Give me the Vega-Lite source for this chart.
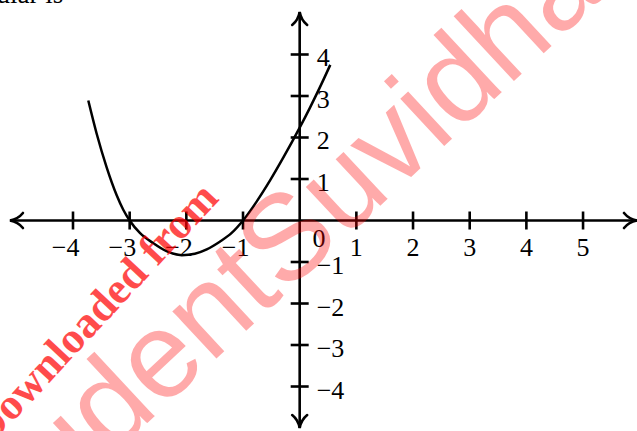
{
  "$schema": "https://vega.github.io/schema/vega-lite/v6.json",
  "width": 637,
  "height": 431,
  "autosize": {"type": "none"},
  "padding": 0,
  "background": "white",
  "config": {"view": {"stroke": null}},
  "datasets": {
    "curve": [
      {"x": -3.73, "y": 2.89}, {"x": -3.582, "y": 2.09}, {"x": -3.406, "y": 1.28},
      {"x": -3.229, "y": 0.608}, {"x": -3.113, "y": 0.26}, {"x": -3.0, "y": 0},
      {"x": -2.82, "y": -0.3}, {"x": -2.58, "y": -0.55}, {"x": -2.35, "y": -0.74},
      {"x": -2.08, "y": -0.835}, {"x": -1.85, "y": -0.8}, {"x": -1.64, "y": -0.695},
      {"x": -1.41, "y": -0.511}, {"x": -1.2, "y": -0.3}, {"x": -1.0, "y": 0},
      {"x": -0.76, "y": 0.456}, {"x": -0.52, "y": 0.972}, {"x": -0.29, "y": 1.513},
      {"x": 0, "y": 2.238}, {"x": 0.18, "y": 2.715}, {"x": 0.36, "y": 3.219},
      {"x": 0.54, "y": 3.75}
    ],
    "axes": [
      {"x": -5.112, "x2": 5.952, "y": 0, "y2": 0},
      {"x": 0, "x2": 0, "y": -5.0, "y2": 5.024}
    ],
    "arrows": [
      {"x": -5.112, "y": 0, "dir": "left"},
      {"x": 5.952, "y": 0, "dir": "right"},
      {"x": 0, "y": 5.024, "dir": "up"},
      {"x": 0, "y": -5.0, "dir": "down"}
    ],
    "xticks": [
      {"x": -4, "y": 0, "label": "−4"}, {"x": -3, "y": 0, "label": "−3"},
      {"x": -2, "y": 0, "label": "−2"}, {"x": -1, "y": 0, "label": "−1"},
      {"x": 1, "y": 0, "label": "1"}, {"x": 2, "y": 0, "label": "2"},
      {"x": 3, "y": 0, "label": "3"}, {"x": 4, "y": 0, "label": "4"},
      {"x": 5, "y": 0, "label": "5"}
    ],
    "yticks": [
      {"x": 0, "y": 4, "label": "4"}, {"x": 0, "y": 3, "label": "3"},
      {"x": 0, "y": 2, "label": "2"}, {"x": 0, "y": 1, "label": "1"},
      {"x": 0, "y": -1, "label": "−1"}, {"x": 0, "y": -2, "label": "−2"},
      {"x": 0, "y": -3, "label": "−3"}, {"x": 0, "y": -4, "label": "−4"}
    ],
    "origin": [{"x": 0, "y": 0, "label": "0"}]
  },
  "layer": [
    {
      "data": {"name": "axes"},
      "mark": {"type": "rule", "color": "black", "strokeWidth": 2.6},
      "encoding": {
        "x": {"field": "x", "type": "quantitative", "scale": {"domain": [-5.288, 5.952], "nice": false, "zero": false}, "axis": null},
        "y": {"field": "y", "type": "quantitative", "scale": {"domain": [-5.072, 5.313], "nice": false, "zero": false}, "axis": null},
        "x2": {"field": "x2"},
        "y2": {"field": "y2"}
      }
    },
    {
      "data": {"name": "arrows"},
      "mark": {"type": "point", "filled": false, "stroke": "black", "strokeWidth": 2.6, "size": 225, "opacity": 1, "strokeCap": "round"},
      "encoding": {
        "x": {"field": "x", "type": "quantitative", "scale": {"domain": [-5.288, 5.952], "nice": false, "zero": false}, "axis": null},
        "y": {"field": "y", "type": "quantitative", "scale": {"domain": [-5.072, 5.313], "nice": false, "zero": false}, "axis": null},
        "shape": {
          "field": "dir", "type": "nominal", "legend": null,
          "scale": {
            "domain": ["left", "right", "up", "down"],
            "range": [
              "M1.73,-1C1.25,-0.4 0.55,-0.1 0,0C0.55,0.1 1.25,0.4 1.73,1",
              "M-1.73,-1C-1.25,-0.4 -0.55,-0.1 0,0C-0.55,0.1 -1.25,0.4 -1.73,1",
              "M-1,1.73C-0.4,1.25 -0.1,0.55 0,0C0.1,0.55 0.4,1.25 1,1.73",
              "M-1,-1.73C-0.4,-1.25 -0.1,-0.55 0,0C0.1,-0.55 0.4,-1.25 1,-1.73"
            ]
          }
        }
      }
    },
    {
      "data": {"name": "xticks"},
      "mark": {"type": "tick", "orient": "vertical", "color": "black", "size": 18, "thickness": 2.6, "opacity": 1},
      "encoding": {
        "x": {"field": "x", "type": "quantitative", "scale": {"domain": [-5.288, 5.952], "nice": false, "zero": false}, "axis": null},
        "y": {"field": "y", "type": "quantitative", "scale": {"domain": [-5.072, 5.313], "nice": false, "zero": false}, "axis": null}
      }
    },
    {
      "data": {"name": "yticks"},
      "mark": {"type": "tick", "orient": "horizontal", "color": "black", "size": 18, "thickness": 2.6, "opacity": 1},
      "encoding": {
        "x": {"field": "x", "type": "quantitative", "scale": {"domain": [-5.288, 5.952], "nice": false, "zero": false}, "axis": null},
        "y": {"field": "y", "type": "quantitative", "scale": {"domain": [-5.072, 5.313], "nice": false, "zero": false}, "axis": null}
      }
    },
    {
      "data": {"name": "curve"},
      "mark": {"type": "line", "color": "black", "strokeWidth": 2.5, "interpolate": "monotone"},
      "encoding": {
        "x": {"field": "x", "type": "quantitative", "scale": {"domain": [-5.288, 5.952], "nice": false, "zero": false}, "axis": null},
        "y": {"field": "y", "type": "quantitative", "scale": {"domain": [-5.072, 5.313], "nice": false, "zero": false}, "axis": null}
      }
    },
    {
      "data": {"name": "xticks"},
      "mark": {"type": "text", "align": "right", "baseline": "alphabetic", "dx": 6.5, "dy": 35.5, "font": "Liberation Serif", "fontSize": 26, "color": "black"},
      "encoding": {
        "x": {"field": "x", "type": "quantitative", "scale": {"domain": [-5.288, 5.952], "nice": false, "zero": false}, "axis": null},
        "y": {"field": "y", "type": "quantitative", "scale": {"domain": [-5.072, 5.313], "nice": false, "zero": false}, "axis": null},
        "text": {"field": "label"}
      }
    },
    {
      "data": {"name": "yticks"},
      "mark": {"type": "text", "align": "left", "baseline": "alphabetic", "dx": 17, "dy": 12, "font": "Liberation Serif", "fontSize": 26, "color": "black"},
      "encoding": {
        "x": {"field": "x", "type": "quantitative", "scale": {"domain": [-5.288, 5.952], "nice": false, "zero": false}, "axis": null},
        "y": {"field": "y", "type": "quantitative", "scale": {"domain": [-5.072, 5.313], "nice": false, "zero": false}, "axis": null},
        "text": {"field": "label"}
      }
    },
    {
      "data": {"name": "origin"},
      "mark": {"type": "text", "align": "center", "baseline": "alphabetic", "dx": 19.3, "dy": 26.5, "font": "Liberation Serif", "fontSize": 26, "color": "black"},
      "encoding": {
        "x": {"field": "x", "type": "quantitative", "scale": {"domain": [-5.288, 5.952], "nice": false, "zero": false}, "axis": null},
        "y": {"field": "y", "type": "quantitative", "scale": {"domain": [-5.072, 5.313], "nice": false, "zero": false}, "axis": null},
        "text": {"field": "label"}
      }
    },
    {
      "data": {"values": [{"label": "ular is"}]},
      "mark": {"type": "text", "align": "right", "baseline": "alphabetic", "font": "Liberation Serif", "fontSize": 27, "color": "black"},
      "encoding": {
        "x": {"datum": -4.171, "type": "quantitative", "scale": {"domain": [-5.288, 5.952], "nice": false, "zero": false}, "axis": null},
        "y": {"datum": 5.25, "type": "quantitative", "scale": {"domain": [-5.072, 5.313], "nice": false, "zero": false}, "axis": null},
        "text": {"field": "label"}
      }
    },
    {
      "data": {"values": [{"label": "StudentSuvidha"}]},
      "mark": {"type": "text", "align": "center", "baseline": "alphabetic", "angle": -43, "font": "Liberation Sans", "fontSize": 122, "color": "#ff0000", "opacity": 0.33},
      "encoding": {
        "x": {"datum": -0.136, "type": "quantitative", "scale": {"domain": [-5.288, 5.952], "nice": false, "zero": false}, "axis": null},
        "y": {"datum": -1.627, "type": "quantitative", "scale": {"domain": [-5.072, 5.313], "nice": false, "zero": false}, "axis": null},
        "text": {"field": "label"}
      }
    },
    {
      "data": {"values": [{"label": "Downloaded from"}]},
      "mark": {"type": "text", "align": "center", "baseline": "alphabetic", "angle": -47, "font": "Liberation Serif", "fontWeight": "bold", "fontSize": 44, "color": "#ff0000", "opacity": 0.7},
      "encoding": {
        "x": {"datum": -3.436, "type": "quantitative", "scale": {"domain": [-5.288, 5.952], "nice": false, "zero": false}, "axis": null},
        "y": {"datum": -2.47, "type": "quantitative", "scale": {"domain": [-5.072, 5.313], "nice": false, "zero": false}, "axis": null},
        "text": {"field": "label"}
      }
    }
  ]
}
